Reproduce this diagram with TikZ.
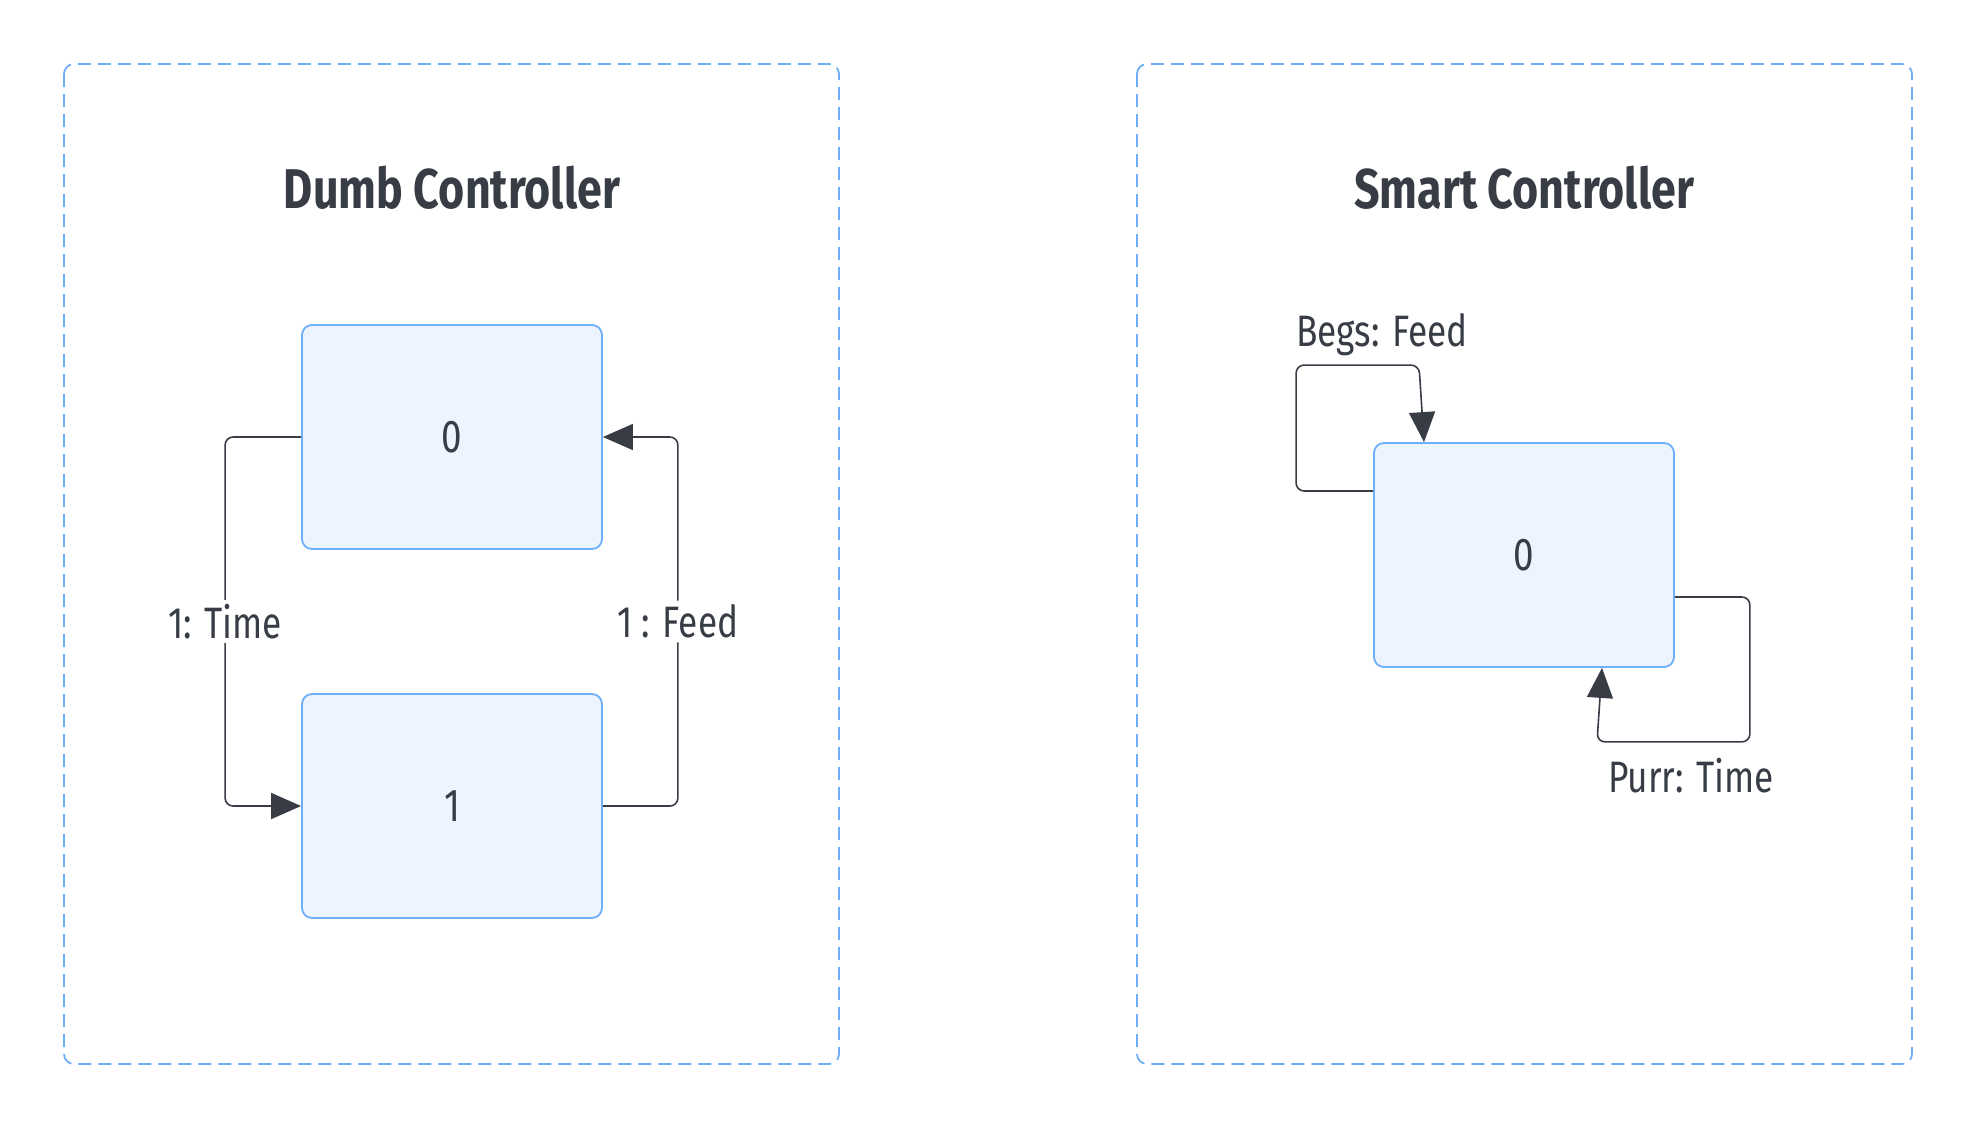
\documentclass[tikz,border=0pt]{standalone}
\usepackage{fontspec}
\usepackage{xcolor}
\usepackage{tikz}
\usetikzlibrary{arrows.meta,calc}
\newfontfamily\handfont[FakeStretch=0.8]{Fira Sans}
\definecolor{boxblue}{HTML}{6FAEF8}
\definecolor{boxfill}{HTML}{ECF4FE}
\definecolor{inkgray}{HTML}{373C45}

\begin{document}
\begin{tikzpicture}[x=0.5pt,y=-0.5pt,
		cluster/.style={draw=boxblue, dash pattern=on 6.5pt off 3.5pt, rounded corners=5pt, line width=0.9pt},
		statebox/.style={draw=boxblue, fill=boxfill, rounded corners=5pt, line width=0.9pt, minimum width=150pt, minimum height=112pt, text=inkgray, font=\handfont\fontsize{23}{26}\selectfont},
		edge/.style={draw=inkgray, line width=0.8pt, rounded corners=4pt, -{Triangle[length=15pt,width=13pt]}},
		lbl/.style={fill=white, text=inkgray, inner sep=2pt, font=\handfont\fontsize{22}{26}\selectfont},
		ttl/.style={text=inkgray, font=\handfont\bfseries\fontsize{28}{32}\selectfont}]
		\useasboundingbox (0,0) rectangle (1967,1136);
		% the two clusters
		\draw[cluster] (64,64) rectangle (839,1064);
		\draw[cluster] (1137,64) rectangle (1912,1064);
		\node[ttl] (dumbtitle) at (452,188) {Dumb Controller};
		\node[ttl] (smarttitle) at (1524,188) {Smart Controller};
		% dumb controller
		\node[statebox] (d0) at (452,437) {0};
		\node[statebox] (d1) at (452,806) {1};
		\draw[edge] (d0.west) -- ++(-76,0) |- node[lbl, pos=0.25] {1: Time} (d1.west);
		\draw[edge] (d1.east) -- ++(75,0) |- node[lbl, pos=0.25] {1 : Feed} (d0.east);
		% smart controller
		\node[statebox] (s0) at (1524,555) {0};
		\draw[edge] ($(s0.west)+(0,-64)$) -- ++(-77,0) |- ($(s0.north)+(-105,-77)$) -- ($(s0.north)+(-100,0)$);
		\node[lbl] (begs) at ($(s0.north)+(-142,-107)$) {Begs: Feed};
		\draw[edge] ($(s0.east)+(0,42)$) -- ++(75,0) |- ($(s0.south)+(73,74)$) -- ($(s0.south)+(78,0)$);
		\node[lbl] (purr) at ($(s0.south)+(167,108)$) {Purr: Time};
\end{tikzpicture}
\end{document}
